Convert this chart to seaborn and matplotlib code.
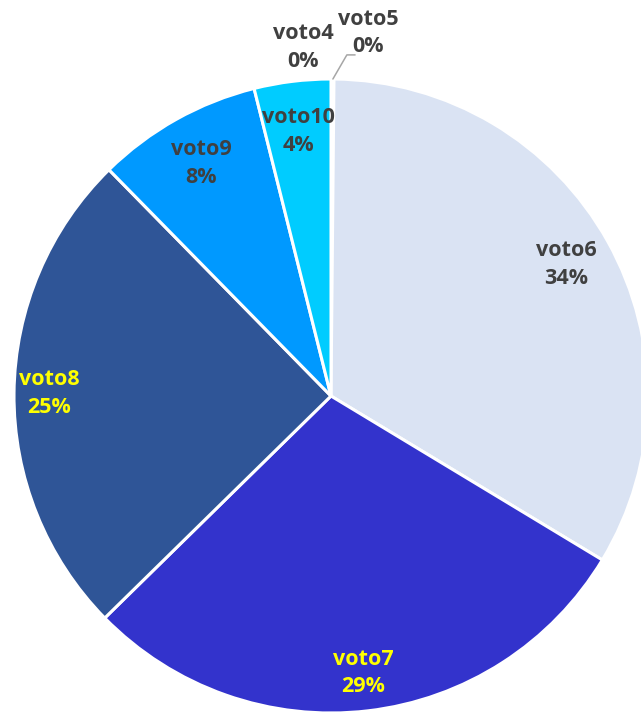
import numpy as np
import matplotlib
matplotlib.use('Agg')
import matplotlib.pyplot as plt
import seaborn as sns

# Vote share per category (percent)
categories = ['voto4', 'voto5', 'voto6', 'voto7', 'voto8', 'voto9', 'voto10']
shares = [0.05, 0.1, 33.5, 29.0, 25.0, 8.45, 3.9]
colors = ['#DAE3F3', '#DAE3F3', '#DAE3F3', '#3333CC', '#2F5597', '#0099FF', '#00CCFF']
label_colors = ['#404040', '#404040', '#404040', '#FFFF00', '#FFFF00', '#404040', '#404040']

sns.set_theme(style='white')
plt.rcParams['font.family'] = ['Open Sans', 'DejaVu Sans']

fig = plt.figure(figsize=(6.41, 7.12), dpi=100)
r_px = 317
cx, cy = 331, 396
ax = fig.add_axes([(cx - r_px) / 641, (712 - cy - r_px) / 712, 2 * r_px / 641, 2 * r_px / 712])

wedges, _ = ax.pie(shares, colors=colors, startangle=90, counterclock=False,
                   wedgeprops=dict(edgecolor='white', linewidth=2.2), radius=1)
ax.set_xlim(-1, 1)
ax.set_ylim(-1, 1)
ax.set_aspect('equal')
ax.axis('off')

# label distance from centre per slice
label_r = {'voto6': 0.85, 'voto7': 0.88, 'voto8': 0.89, 'voto9': 0.84, 'voto10': 0.84}

total = sum(shares)
for w, cat, val, lc in zip(wedges, categories, shares, label_colors):
    mid = np.deg2rad((w.theta1 + w.theta2) / 2)
    txt = f'{cat}\n{round(val / total * 100):.0f}%'
    if cat == 'voto4':
        x, y = -0.088, 1.10
    elif cat == 'voto5':
        x, y = 0.118, 1.145
        ax.plot([0.006, 0.05, 0.076], [1.0, 1.076, 1.076],
                color='#A6A6A6', lw=1.1, clip_on=False)
    else:
        x, y = label_r[cat] * np.cos(mid), label_r[cat] * np.sin(mid)
    ax.text(x, y, txt, ha='center', va='center', color=lc, fontsize=15.5,
            fontweight='bold', linespacing=1.42, clip_on=False)

fig.savefig('out.png', dpi=100)
